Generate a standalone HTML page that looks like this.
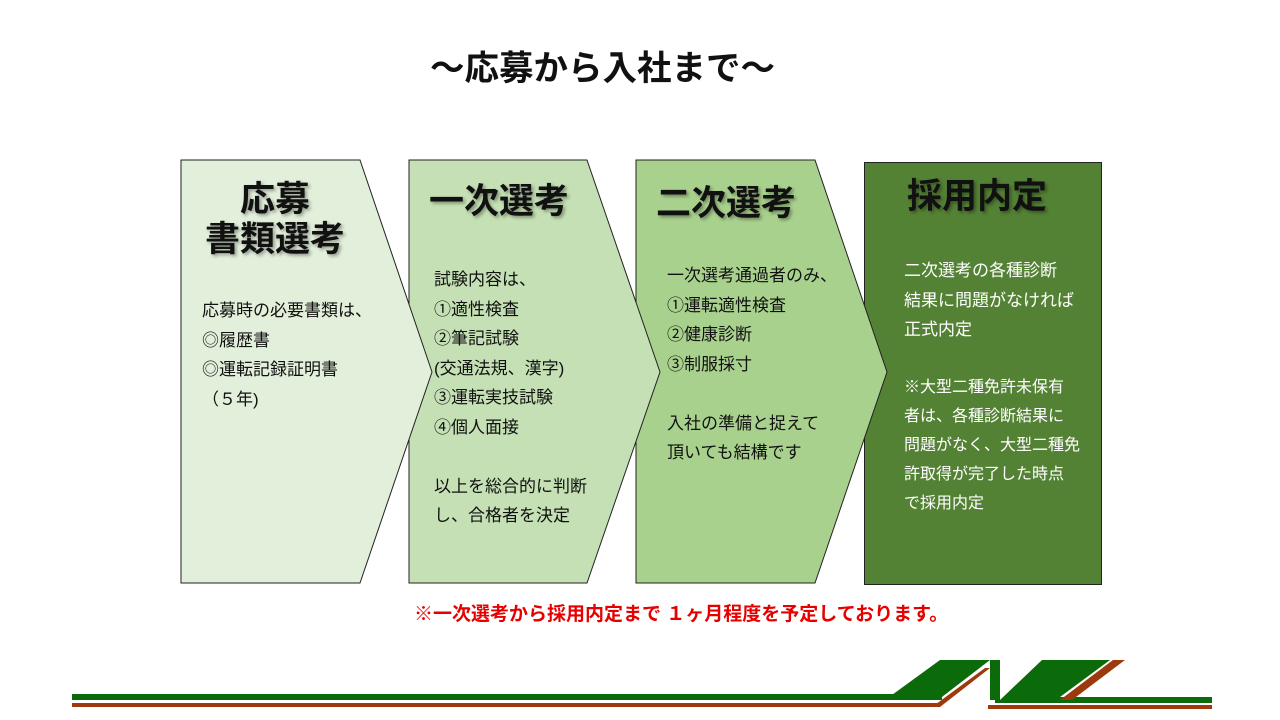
<!DOCTYPE html><html><head><meta charset="utf-8"><style>
body{margin:0;width:1280px;height:720px;background:#fff;position:relative;overflow:hidden;font-family:"Liberation Sans","Noto Sans CJK JP",sans-serif}
.t{position:absolute;white-space:nowrap}
.h{font-weight:bold;font-size:35px;color:#111;text-shadow:2px 2px 3px rgba(0,0,0,.35);text-align:center;line-height:40px}
.b{font-size:17px;color:#111;line-height:29.5px}
.w{color:#fff}
</style></head><body>
<svg width="1280" height="720" style="position:absolute;left:0;top:0">
<rect x="864.5" y="162.5" width="237" height="422" fill="#548235" stroke="#222" stroke-width="1"/>
<polygon points="636,160 815,160 887,372 815,583 636,583" fill="#a9d18e" stroke="#222" stroke-width="1"/>
<polygon points="409,160 587,160 660,372 587,583 409,583" fill="#c5e0b4" stroke="#222" stroke-width="1"/>
<polygon points="181,160 360,160 432,372 360,583 181,583" fill="#e2efda" stroke="#222" stroke-width="1"/>
<rect x="72" y="694" width="870" height="6" fill="#0b6b0b"/>
<polygon points="885,700 940,660 990,660 938,700" fill="#0b6b0b"/>
<polygon points="990,660 995,660 995,700 990,700" fill="#0b6b0b"/>
<polygon points="995,660 1000,660 1000,700 1042,660 1110,660 1060,697 1212,697 1212,703 995,703" fill="#0b6b0b"/>
<rect x="72" y="703" width="865" height="4" fill="#9c3a0e"/>
<polygon points="932,707 985,668 990,668 940,707" fill="#9c3a0e"/>
<rect x="988" y="705" width="224" height="4" fill="#9c3a0e"/>
<polygon points="1060,700 1113,660 1125,660 1072,700" fill="#9c3a0e"/>
</svg>
<div class="t" style="left:430px;top:40px;font-size:34.5px;font-weight:bold;color:#111">～応募から入社まで～</div>
<div class="t h" style="left:185px;width:180px;top:180px">応募<br>書類選考</div>
<div class="t h" style="left:409px;width:180px;top:182px">一次選考</div>
<div class="t h" style="left:636px;width:180px;top:184px">二次選考</div>
<div class="t h" style="left:857px;width:240px;top:177px">採用内定</div>
<div class="t b" style="left:202px;top:296px">応募時の必要書類は、<br>◎履歴書<br>◎運転記録証明書<br>（５年)</div>
<div class="t b" style="left:434px;top:265px">試験内容は、<br>①適性検査<br>②筆記試験<br>(交通法規、漢字)<br>③運転実技試験<br>④個人面接<br><br>以上を総合的に判断<br>し、合格者を決定</div>
<div class="t b" style="left:667px;top:261px">一次選考通過者のみ、<br>①運転適性検査<br>②健康診断<br>③制服採寸<br><br>入社の準備と捉えて<br>頂いても結構です</div>
<div class="t b w" style="left:904px;top:256px">二次選考の各種診断<br>結果に問題がなければ<br>正式内定</div>
<div class="t w" style="left:904px;top:373px;font-size:16px;line-height:29px">※大型二種免許未保有<br>者は、各種診断結果に<br>問題がなく、大型二種免<br>許取得が完了した時点<br>で採用内定</div>
<div class="t" style="left:414px;top:599px;font-size:19px;font-weight:bold;color:#e60000">※一次選考から採用内定まで １ヶ月程度を予定しております。</div>
</body></html>
